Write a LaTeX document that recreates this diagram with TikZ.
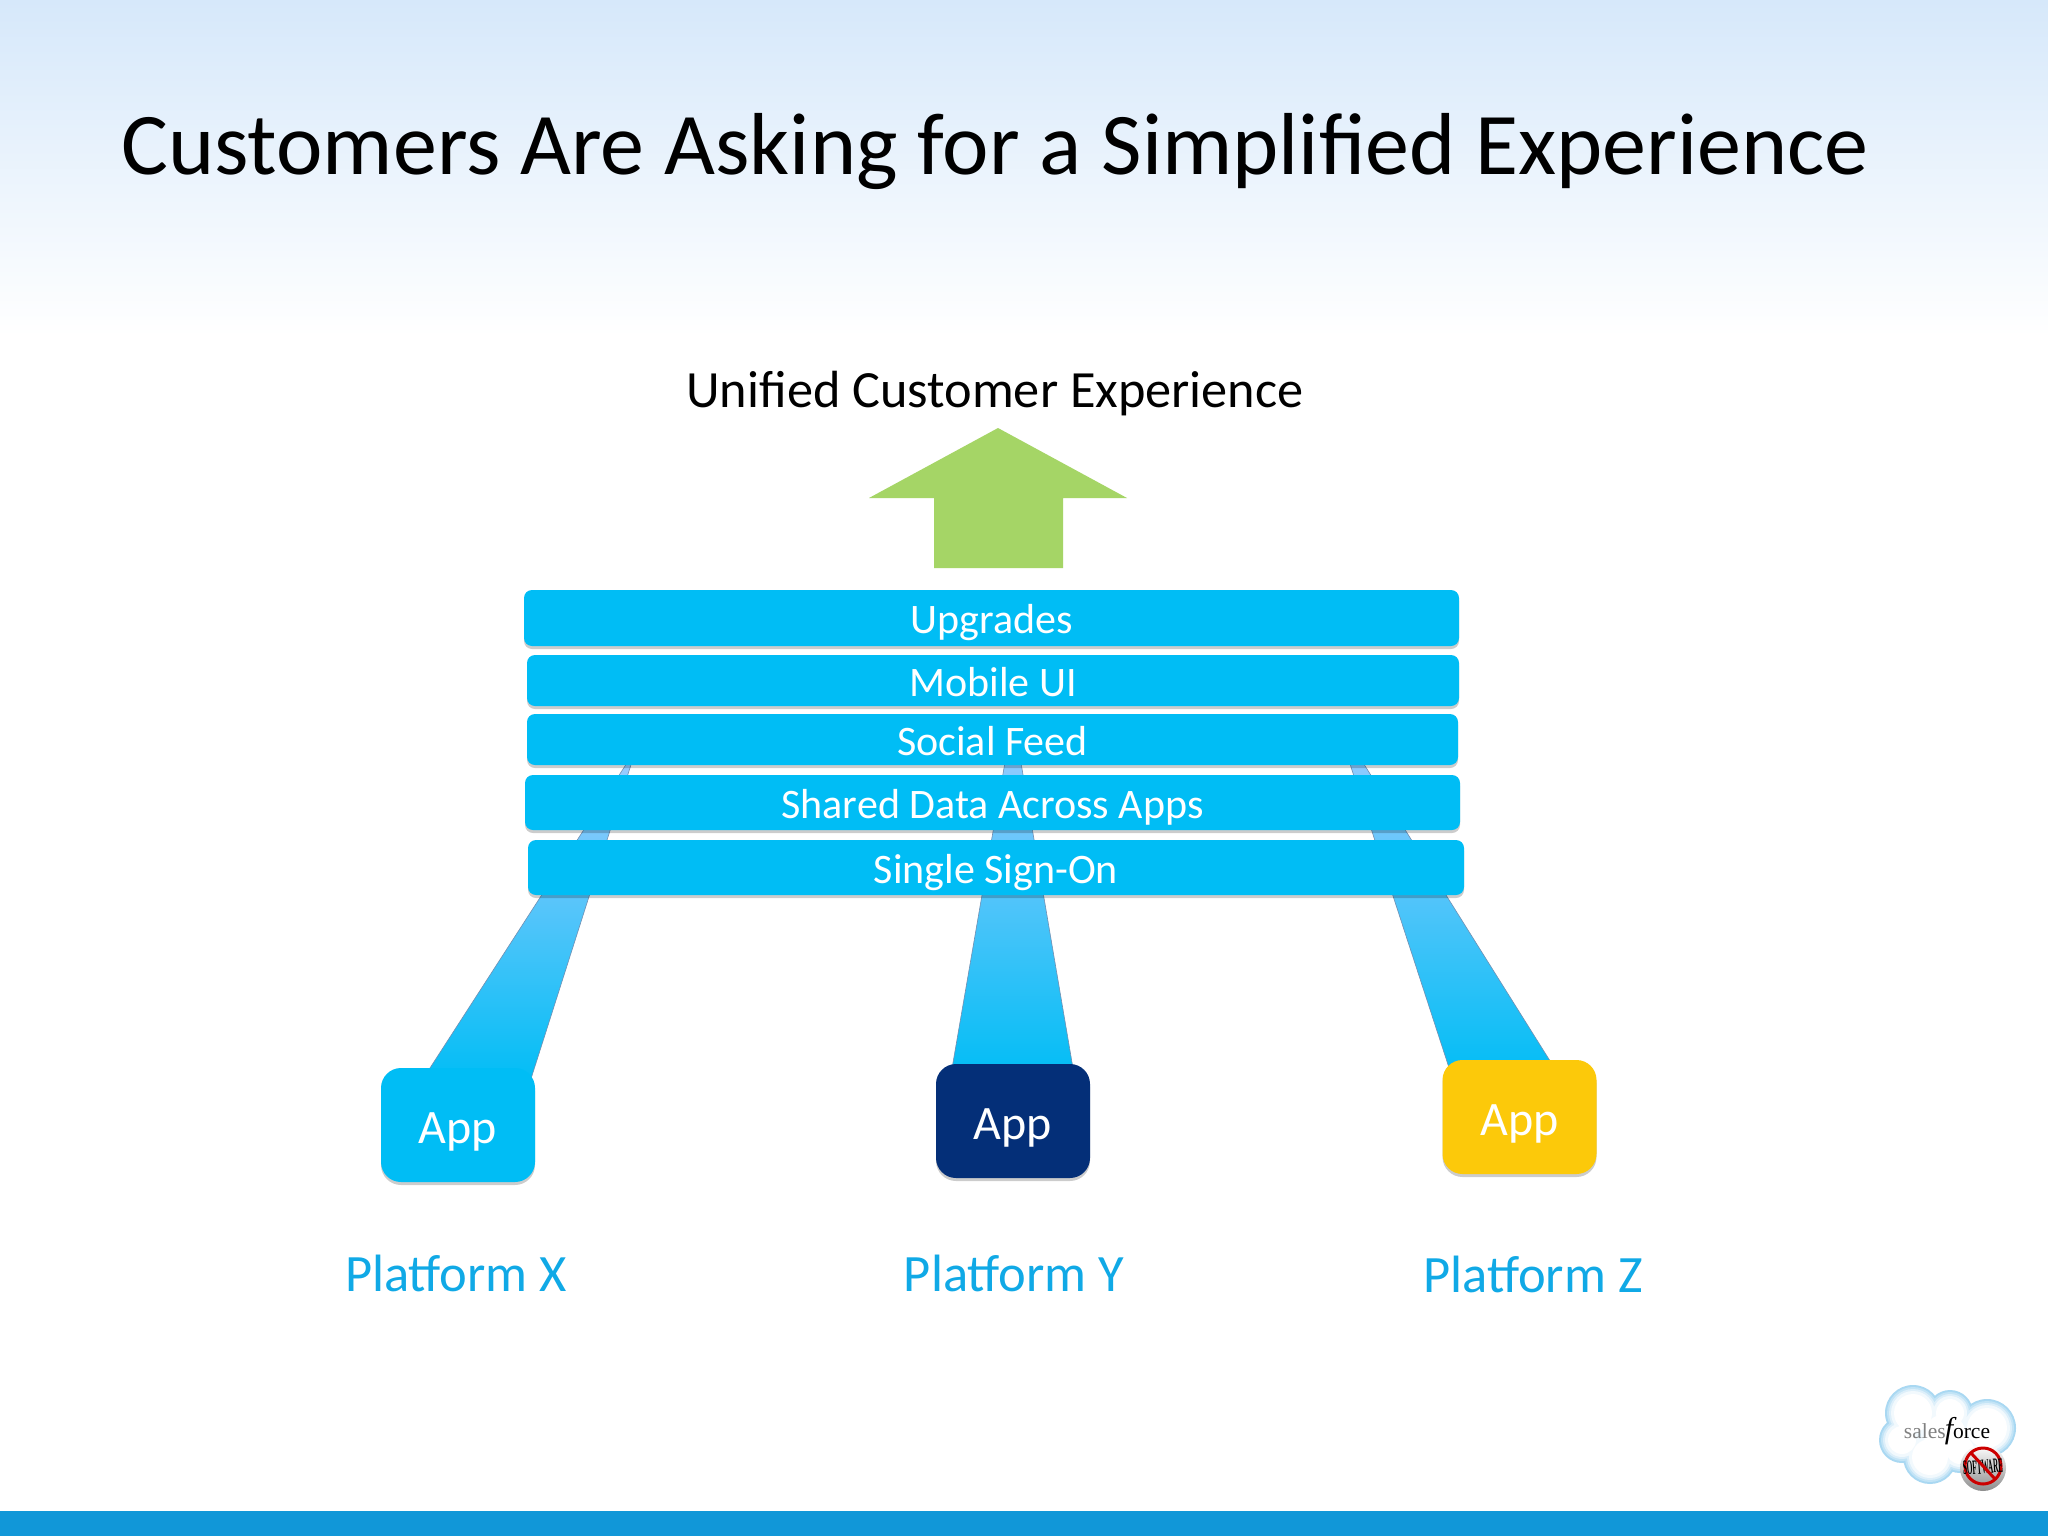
\documentclass[tikz,border=0pt]{standalone}
\usepackage{fontspec}
\setmainfont{Carlito}
\newfontfamily\logofont{Liberation Serif}
\usetikzlibrary{shadows}

\definecolor{barblue}{HTML}{00BDF5}
\definecolor{beamtop}{HTML}{A2CCFF}
\definecolor{navyapp}{HTML}{042F78}
\definecolor{goldapp}{HTML}{FCC90A}
\definecolor{arrowgreen}{HTML}{A5D566}
\definecolor{platformblue}{HTML}{10A9E6}
\definecolor{footerblue}{HTML}{1197D8}
\definecolor{skyblue}{HTML}{D6E8FA}
\definecolor{cloudblue}{HTML}{A9D8F2}

\tikzset{
    layerbar/.style={draw=none, fill=barblue, rounded corners=8pt, text=white, inner sep=0pt,
        text height=36pt, text depth=5pt,
        font=\fontsize{42}{50}\selectfont,
        drop shadow={shadow xshift=0pt, shadow yshift=-3pt, opacity=0.2, fill=black}},
    appbox/.style={draw=none, rounded corners=20pt, text=white, inner sep=0pt,
        minimum width=154pt, minimum height=114pt,
        text height=41pt, text depth=5pt,
        font=\fontsize{48}{58}\selectfont,
        drop shadow={shadow xshift=0pt, shadow yshift=-3pt, opacity=0.2, fill=black}},
    platformlabel/.style={text=platformblue, font=\fontsize{52.5}{62}\selectfont},
    beam/.style={draw=black!30!beamtop, line width=0.6pt, top color=beamtop, bottom color=barblue}
}

% one layer of the logo cloud, #2 shrinks the puffs
\newcommand{\cloudpuffs}[2]{
    \fill[#1] (1913,1413) circle ({28pt-#2}) (1950,1413) circle ({23pt-#2})
        (1987,1428) circle ({29pt-#2}) (1902,1440) circle ({23pt-#2})
        (1930,1457) circle ({27pt-#2}) (1960,1450) circle ({23pt-#2})
        (1945,1435) circle ({30pt-#2});
}

\begin{document}
\begin{tikzpicture}[x=1pt, y=-1pt]
    \useasboundingbox (0,0) rectangle (2048,1536);

    % Page background and footer
    \fill[white] (0,0) rectangle (2048,1536);
    \shade[top color=skyblue, bottom color=white] (0,0) rectangle (2048,337);
    \fill[footerblue] (0,1511) rectangle (2048,1536);

    % Headings
    \node[anchor=base] (title) at (995,175) {\fontsize{88}{104}\selectfont Customers Are Asking for a Simplified Experience};
    \node (unified) at (995,394) {\fontsize{52.3}{62}\selectfont Unified Customer Experience};

    % Up arrow
    \coordinate (tip) at (998,428);
    \fill[arrowgreen] (tip) -- (1127,498) -- (1063,498) -- (1063,568) -- (934,568) -- (934,498) -- (869,498) -- cycle;

    % Corners of the beams, they run under the bars
    \coordinate (xtop) at (636,749);
    \coordinate (xleft) at (419,1085);
    \coordinate (xright) at (529,1085);
    \coordinate (ytop) at (1013,716);
    \coordinate (yleft) at (950,1080);
    \coordinate (yright) at (1075,1080);
    \coordinate (ztop) at (1335,718);
    \coordinate (zleft) at (1453,1080);
    \coordinate (zright) at (1562,1080);

    % Draw the beams
    \draw[beam] (xtop) -- (xleft) -- (xright) -- cycle;
    \draw[beam] (ytop) -- (yleft) -- (yright) -- cycle;
    \draw[beam] (ztop) -- (zleft) -- (zright) -- cycle;

    % Stack of bars
    \node[layerbar, minimum width=935pt, minimum height=56pt] (upgrades) at (991.5,618) {Upgrades};
    \node[layerbar, minimum width=932pt, minimum height=51pt] (mobile) at (993,680.5) {Mobile UI};
    \node[layerbar, minimum width=931pt, minimum height=51pt] (social) at (992.5,739.5) {Social Feed};
    \node[layerbar, minimum width=935pt, minimum height=55pt] (shared) at (992.5,802.5) {Shared Data Across Apps};
    \node[layerbar, minimum width=936pt, minimum height=55pt] (signon) at (996,867.5) {Single Sign-On};

    % Apps
    \node[appbox, fill=barblue] (appx) at (458,1125) {App};
    \node[appbox, fill=navyapp] (appy) at (1013,1121) {App};
    \node[appbox, fill=goldapp] (appz) at (1519.5,1117) {App};

    % Platform names
    \node[platformlabel] (platx) at (456,1273) {Platform X};
    \node[platformlabel] (platy) at (1014,1273) {Platform Y};
    \node[platformlabel] (platz) at (1533,1274) {Platform Z};

    % Logo in the corner
    \cloudpuffs{cloudblue}{0pt}
    \cloudpuffs{cloudblue!70!white}{2pt}
    \cloudpuffs{cloudblue!40!white}{4pt}
    \cloudpuffs{cloudblue!15!white}{6pt}
    \cloudpuffs{white}{9pt}
    \node (logoname) at (1947,1431) {\logofont\fontsize{21.5}{26}\selectfont\textcolor{black!50}{sales}\hspace{-1pt}{\fontsize{30}{30}\selectfont\textit{f}}\hspace{-3.5pt}orce};
    \shade[top color=white, bottom color=black!45] (1983,1468) circle (23pt);
    \draw[red!80!black, line width=3pt] (1983,1466) circle (18pt);
    \node[inner sep=0pt, rotate=4] (badge) at (1983,1467) {\logofont\bfseries\fontsize{17}{18}\selectfont\scalebox{0.42}[1.2]{SOFTWARE}};
    \draw[red!80!black, line width=3pt] (1971,1453) -- (1995,1479);
\end{tikzpicture}
\end{document}
